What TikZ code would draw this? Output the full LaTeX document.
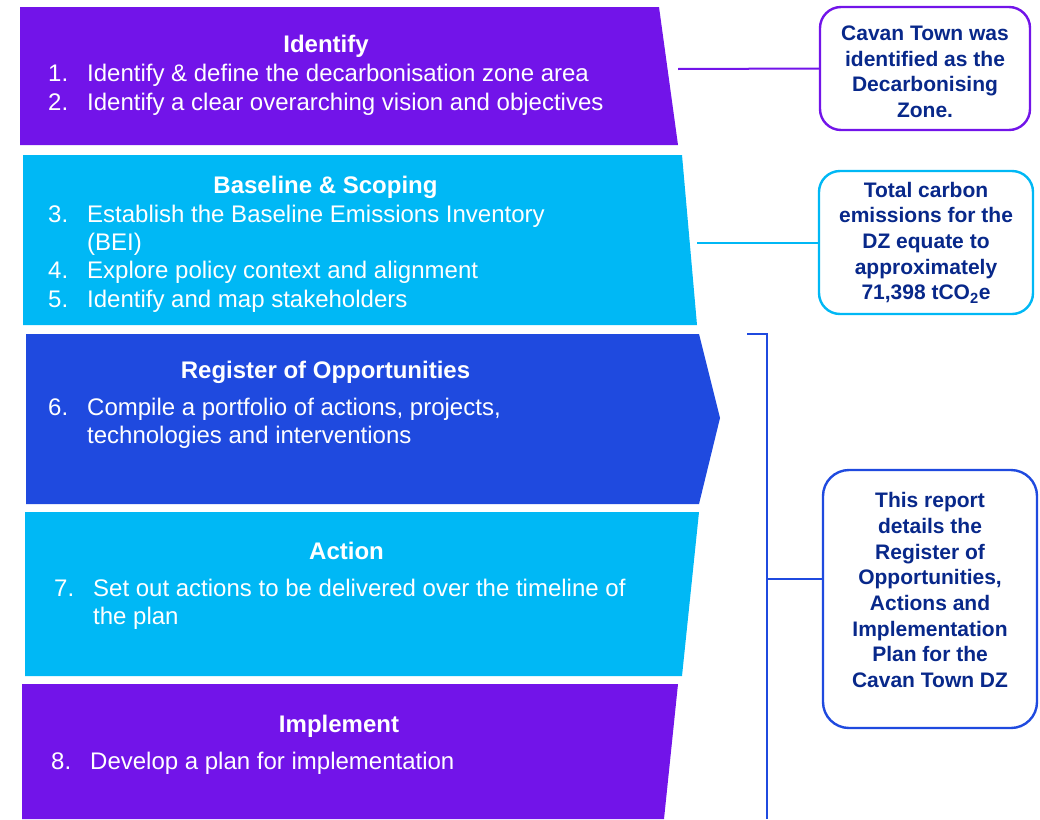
\documentclass[tikz,border=0pt]{standalone}
\usepackage{fontspec}
\setmainfont{Liberation Sans}
\definecolor{dzpurple}{RGB}{114,20,233}
\definecolor{dzcyan}{RGB}{0,184,245}
\definecolor{dzblue}{RGB}{31,74,223}
\definecolor{dznavy}{RGB}{8,40,138}
\begin{document}
\begin{tikzpicture}[x=1pt,y=-1pt,
        stagetitle/.style={text=white,font=\bfseries\fontsize{24}{28}\selectfont,anchor=base,inner sep=0pt},
        stageitem/.style={text=white,font=\fontsize{24}{28.3}\selectfont,anchor=base west,inner sep=0pt,align=left},
        notebox/.style={draw,line width=2.4pt,rounded corners=21pt,fill=white,text=dznavy,
            font=\bfseries\fontsize{21}{25.7}\selectfont,align=center,inner sep=0pt},
        link/.style={line width=2pt}]
            \useasboundingbox (0,0) rectangle (1040,819);

            % stages
            \fill[dzpurple] (20,7) -- (659,7) -- (678,145) -- (20,145) -- cycle;
            \fill[dzcyan] (23,155) -- (682,155) -- (697,325) -- (23,325) -- cycle;
            \fill[dzblue] (26,334) -- (699,334) -- (720,418) -- (699,504) -- (26,504) -- cycle;
            \fill[dzcyan] (25,512) -- (699,512) -- (682,676) -- (25,676) -- cycle;
            \fill[dzpurple] (22,684) -- (678,684) -- (664,819) -- (22,819) -- cycle;

            \node[stagetitle] (identify) at (326,52.5) {Identify};
            \node[stageitem] (n1) at (48,81.7) {1.};
            \node[stageitem] (i1) at (87,81.7) {Identify \& define the decarbonisation zone area};
            \node[stageitem] (n2) at (48,110) {2.};
            \node[stageitem] (i2) at (87,110) {Identify a clear overarching vision and objectives};

            \node[stagetitle] (baseline) at (325.5,193.5) {Baseline \& Scoping};
            \node[stageitem] (n3) at (48,222) {3.};
            \node[stageitem] (i3) at (87,222) {Establish the Baseline Emissions Inventory};
            \node[stageitem] (i3b) at (87,250.3) {(BEI)};
            \node[stageitem] (n4) at (48,278.6) {4.};
            \node[stageitem] (i4) at (87,278.6) {Explore policy context and alignment};
            \node[stageitem] (n5) at (48,307) {5.};
            \node[stageitem] (i5) at (87,307) {Identify and map stakeholders};

            \node[stagetitle] (register) at (325.5,378.3) {Register of Opportunities};
            \node[stageitem] (n6) at (48,415) {6.};
            \node[stageitem] (i6) at (87,415) {Compile a portfolio of actions, projects,};
            \node[stageitem] (i6b) at (87,443.3) {technologies and interventions};

            \node[stagetitle] (action) at (346.5,559.5) {Action};
            \node[stageitem] (n7) at (54,596) {7.};
            \node[stageitem] (i7) at (93,596) {Set out actions to be delivered over the timeline of};
            \node[stageitem] (i7b) at (93,624.3) {the plan};

            \node[stagetitle] (implement) at (339,732.5) {Implement};
            \node[stageitem] (n8) at (51,769.5) {8.};
            \node[stageitem] (i8) at (90,769.5) {Develop a plan for implementation};

            % notes on the right
            \node[notebox,draw=dzpurple,minimum width=210pt,minimum height=123pt] (zonenote) at (925,68.5)
                {\rule{0pt}{21pt}Cavan Town was\\identified as the\\Decarbonising\\Zone.};
            \node[notebox,draw=dzcyan,minimum width=214pt,minimum height=143pt] (carbonnote) at (926,242.5)
                {Total carbon\\emissions for the\\DZ equate to\\approximately\\71,398 tCO\textsubscript{2}e};
            \node[notebox,draw=dzblue,rounded corners=26pt,minimum width=214pt,minimum height=258pt] (reportnote) at (930,599)
                {This report\\details the\\Register of\\Opportunities,\\Actions and\\Implementation\\Plan for the\\Cavan Town DZ\\[-7.7pt]};

            % connectors
            \coordinate (identifyR) at (678,69);
            \coordinate (baselineR) at (697,242.5);
            \coordinate (bracketT) at (747,334);
            \coordinate (bracketB) at (767,819);
            \coordinate (bracketM) at (767,579);

            \draw[link,dzpurple] (identifyR) -- (zonenote.west);
            \draw[link,dzcyan] (baselineR) -- (carbonnote.west);
            \draw[link,dzblue] (bracketT) -| (bracketB);
            \draw[link,dzblue] (bracketM) -- (bracketM -| reportnote.west);

        \end{tikzpicture}
\end{document}
